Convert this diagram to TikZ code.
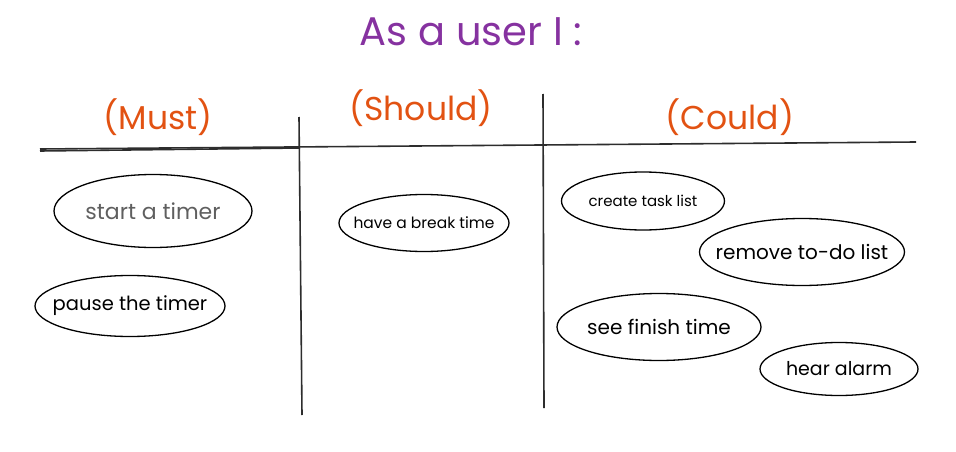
\documentclass[tikz,border=0pt]{standalone}
\usepackage{fontspec}
\setmainfont{Poppins}
\usepackage{xcolor}
\definecolor{skpurple}{RGB}{134,50,160}
\definecolor{skorange}{RGB}{226,82,18}
\definecolor{skgray}{RGB}{95,95,95}
\definecolor{skline}{RGB}{45,45,45}
\usetikzlibrary{shapes.geometric}

\begin{document}
\begin{tikzpicture}[x=1pt, y=-1pt,
  story/.style={draw=black, ellipse, line width=1.3pt, inner xsep=-60pt, inner ysep=-20pt, outer sep=0pt, align=center},
  head/.style={text=skorange, font=\fontsize{33}{36}\selectfont},
  rule/.style={draw=skline, line width=1.6pt}
]
  \useasboundingbox (0,0) rectangle (956,452);

  % title and column heads
  \node[text=skpurple, font=\fontsize{40}{44}\selectfont] (title) at (471,32) {As a user I :};
  \node[head] (must) at (158,117) {(Must)};
  \node[head] (should) at (421,108) {(Should)};
  \node[head] (could) at (730,117) {(Could)};

  % grid lines
  \draw[rule] (40,149) -- (916,142);
  \draw[rule] (40,151) -- (300,148);
  \draw[rule] (299,117) -- (302,415);
  \draw[rule] (543,94) -- (544,408);

  % must
  \node[story, minimum width=198, minimum height=73, text=skgray, font=\fontsize{22}{24}\selectfont] (start) at (153,211) {start a timer};
  \node[story, minimum width=190, minimum height=61, font=\fontsize{19.5}{22}\selectfont] (pause) at (130,306) {pause the timer};

  % should
  \node[story, minimum width=170, minimum height=57, font=\fontsize{15.5}{18}\selectfont] (break) at (424,223) {have a break time};

  % could
  \node[story, minimum width=163, minimum height=58, font=\fontsize{15}{17}\selectfont] (task) at (643,201) {create task list};
  \node[story, minimum width=205, minimum height=67, font=\fontsize{20}{22}\selectfont] (remove) at (802,252) {remove to-do list};
  \node[story, minimum width=204, minimum height=67, font=\fontsize{20}{22}\selectfont] (finish) at (659,327) {see finish time};
  \node[story, minimum width=158, minimum height=53, font=\fontsize{19}{22}\selectfont] (alarm) at (839,369) {hear alarm};
\end{tikzpicture}
\end{document}
